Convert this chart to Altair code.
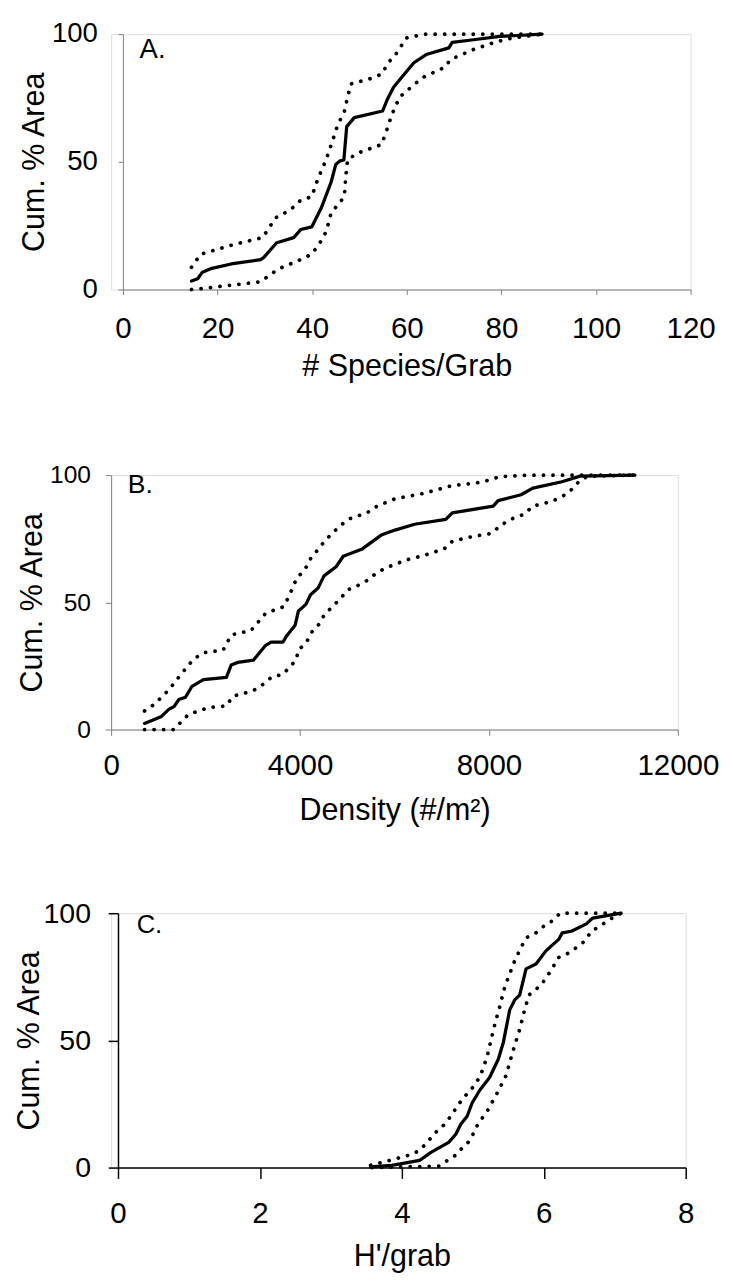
import altair as alt
import pandas as pd

FONT = "Liberation Sans"

# ---------------- Panel A: # Species/Grab ----------------
a_mean_x = [14.5, 15.8, 16.8, 18.8, 22.9, 29.1, 29.8, 32.5, 36.1, 37.6, 39.9, 41.9, 44.0, 45.0, 45.9, 46.7,
            47.3, 48.9, 54.9, 55.8, 57.2, 59.2, 61.5, 64.1, 68.9, 69.6, 74.1, 79.7, 88.6]
a_mean_y = [3.3, 4.2, 6.8, 8.3, 10.0, 11.7, 12.6, 18.3, 20.3, 23.5, 24.5, 31.8, 42.0, 49.0, 50.4, 50.7,
            63.8, 67.3, 69.9, 74.1, 79.2, 83.7, 88.8, 92.0, 94.6, 96.8, 97.8, 99.1, 100]
a_up_x = [14.5, 16.4, 23.6, 29.5, 30.9, 32.2, 35.4, 37.6, 39.9, 41.2, 43.0, 44.4, 45.4, 46.8, 47.5, 48.2,
          52.0, 54.7, 56.1, 57.9, 59.9, 63.7, 88.6]
a_up_y = [8.7, 13.8, 17.7, 20.3, 24.1, 28.0, 31.2, 35.0, 36.3, 43.3, 51.0, 58.7, 64.5, 69.6, 75.4, 80.5,
          82.4, 84.3, 88.8, 92.7, 98.5, 100, 100]
a_lo_x = [14.5, 18.7, 22.9, 29.1, 30.9, 32.9, 37.1, 39.9, 41.9, 43.0, 44.0, 45.4, 46.8, 47.1, 47.5, 49.9,
          54.7, 55.8, 56.8, 58.5, 61.7, 63.7, 67.9, 69.3, 74.1, 78.6, 82.4, 86.6, 88.6]
a_lo_y = [0, 0.8, 1.7, 3.0, 5.5, 8.1, 11.3, 13.8, 19.0, 22.8, 29.9, 33.1, 36.3, 44.0, 51.0, 53.6,
          56.8, 62.6, 68.3, 75.4, 80.5, 83.3, 86.9, 90.1, 94.0, 96.8, 98.5, 99.5, 100]
a_ticks = [0, 20, 40, 60, 80, 100, 120]

# ---------------- Panel B: Density ----------------
b_mean_x = [707, 1054, 1227, 1331, 1435, 1574, 1712, 1955, 2440, 2544, 2683, 3016, 3272, 3390, 3640, 3723,
            3896, 3966, 4124, 4222, 4382, 4507, 4763, 4915, 5318, 5734, 6011, 6427, 7086, 7224, 8091, 8195,
            8680, 8929, 9547, 9929, 11090]
b_mean_y = [2.4, 5.0, 8.0, 9.0, 11.8, 12.7, 17.0, 19.6, 20.5, 25.4, 26.4, 27.3, 33.1, 34.4, 34.4, 37.0,
            41.0, 46.6, 49.2, 53.0, 55.6, 60.4, 64.0, 68.1, 71.0, 76.6, 78.4, 80.7, 82.6, 85.2, 87.8, 90.0,
            92.3, 94.9, 97.4, 99.6, 100]
b_up_x = [707, 915, 1227, 1470, 1747, 1955, 2371, 2544, 2960, 3272, 3654, 3758, 3931, 4104, 4208, 4486,
          4659, 4832, 5006, 5422, 5630, 6011, 6635, 7224, 7848, 8230, 8854, 11090]
b_up_y = [7.3, 9.9, 15.7, 21.5, 27.7, 30.2, 31.2, 37.2, 38.9, 45.7, 48.3, 52.1, 59.5, 62.9, 66.8, 73.2,
          76.8, 79.7, 82.6, 85.2, 87.8, 90.7, 92.9, 95.9, 97.2, 99.4, 100, 100]
b_lo_x = [707, 1331, 1470, 1643, 2059, 2440, 2579, 2995, 3203, 3411, 3619, 3723, 3917, 3966, 4139, 4243,
          4403, 4507, 4694, 4867, 5006, 5214, 5422, 5630, 5838, 6219, 6635, 7051, 7224, 7640, 8056, 8195,
          8368, 8542, 8750, 8923, 9339, 9582, 9790, 9929, 10100, 11090]
b_lo_y = [0, 0, 2.8, 6.0, 8.6, 9.3, 13.1, 15.1, 17.6, 20.8, 21.5, 23.4, 27.3, 31.2, 34.4, 38.2,
          41.4, 44.9, 48.5, 51.7, 54.9, 56.5, 58.6, 61.7, 63.7, 66.5, 68.5, 71.0, 74.0, 75.8, 77.1, 79.4,
          81.7, 83.3, 84.6, 87.8, 89.7, 92.0, 94.9, 98.1, 99.5, 100]
b_ticks = [0, 4000, 8000, 12000]

# ---------------- Panel C: H'/grab ----------------
c_mean_x = [3.56, 3.86, 4.25, 4.41, 4.66, 4.76, 4.83, 4.92, 4.99, 5.10, 5.19, 5.24, 5.36, 5.43, 5.52, 5.59,
            5.66, 5.75, 5.89, 6.03, 6.21, 6.26, 6.39, 6.60, 6.69, 7.09]
c_mean_y = [0.3, 0.9, 2.8, 6.0, 9.9, 13.1, 17.0, 20.2, 25.4, 30.5, 33.7, 35.6, 42.7, 49.2, 62.0, 65.9,
            67.8, 78.1, 80.0, 85.2, 89.7, 92.3, 92.9, 95.8, 98.1, 100]
c_up_x = [3.56, 3.83, 4.09, 4.23, 4.34, 4.46, 4.60, 4.69, 4.78, 4.87, 4.99, 5.10, 5.20, 5.26, 5.31, 5.38,
          5.45, 5.52, 5.59, 5.68, 5.75, 5.89, 6.00, 6.12, 6.23, 7.04]
c_up_y = [0.9, 2.8, 4.8, 6.4, 9.3, 13.4, 17.0, 20.2, 24.1, 27.5, 31.2, 35.6, 43.4, 50.5, 56.3, 63.3,
          71.0, 76.2, 81.3, 86.5, 90.3, 92.3, 94.9, 97.0, 100, 100]
c_lo_x = [3.58, 4.53, 4.64, 4.77, 4.85, 4.96, 5.08, 5.19, 5.33, 5.40, 5.47, 5.56, 5.66, 5.73, 5.79, 5.96,
          6.05, 6.21, 6.37, 6.58, 6.67, 6.79, 6.92, 7.06, 7.09]
c_lo_y = [0, 0.6, 2.8, 5.1, 7.7, 10.6, 17.6, 21.5, 28.6, 32.4, 36.3, 45.3, 54.3, 62.0, 67.8, 71.7,
          75.2, 82.6, 84.6, 89.1, 92.9, 94.9, 97.4, 99.6, 100]
c_ticks = [0, 2, 4, 6, 8]

y_ticks = [0, 50, 100]
y_title = "Cum. % Area"


def build_df(mx, my, ux, uy, lx, ly):
    rows = []
    for name, xs, ys in (("mean", mx, my), ("upper", ux, uy), ("lower", lx, ly)):
        for i, (x, y) in enumerate(zip(xs, ys)):
            rows.append({"x": x, "y": y, "series": name, "ord": i})
    return pd.DataFrame(rows)


def panel(df, xdom, xticks, xtitle, letter, st):
    sh = st["shift"]
    W = st["w"] + sh
    xaxis = alt.Axis(values=xticks, title=xtitle, grid=False, format="d",
                     domainColor=st["axcol"], tickColor=st["axcol"], domainWidth=st["axw"], tickWidth=st["axw"],
                     tickSize=st["xtick"], labelFontSize=st["xlab"], labelPadding=st["xlabpad"],
                     labelFont=FONT, labelColor="black", titleFont=FONT, titleFontSize=st["xtit"],
                     titleFontWeight="normal", titleColor="black", titlePadding=st["xtitpad"],
                     titleX=sh + st["w"] / 2,
                     labelFlush=False, labelOverlap=False)
    yaxis = alt.Axis(values=y_ticks, title=y_title, grid=False, offset=-sh,
                     domainColor=st["axcol"], tickColor=st["axcol"], domainWidth=st["axw"], tickWidth=st["axw"],
                     tickSize=st["ytick"], labelFontSize=st["ylab"], labelPadding=st["ylabpad"],
                     labelFont=FONT, labelColor="black", titleFont=FONT, titleFontSize=st["ytit"],
                     titleFontWeight="normal", titleColor="black", titlePadding=st["ytitpad"],
                     labelFlush=False, labelOverlap=False)
    xenc = alt.X("x:Q", scale=alt.Scale(domain=xdom, range=[sh, W], nice=False, zero=False), axis=xaxis)
    yenc = alt.Y("y:Q", scale=alt.Scale(domain=[0, 100], nice=False), axis=yaxis)
    base = alt.Chart(df)
    dotted = base.transform_filter(alt.datum.series != "mean").mark_line(
        color="black", strokeWidth=3.8, strokeDash=[0.1, 9.6], strokeCap="round"
    ).encode(x=xenc, y=yenc, detail="series:N", order="ord:Q")
    solid = base.transform_filter(alt.datum.series == "mean").mark_line(
        color="black", strokeWidth=3.3, strokeJoin="round", strokeCap="round"
    ).encode(x=xenc, y=yenc, order="ord:Q")
    lab = alt.Chart(pd.DataFrame({"t": [letter]})).mark_text(
        align="left", baseline="alphabetic", fontSize=st["letfs"], font=FONT, color="black"
    ).encode(x=alt.value(sh + st["letx"]), y=alt.value(st["lety"]), text="t:N")
    layers = [dotted, solid, lab]
    if st["spy"] > 0:
        spacer = alt.Chart(pd.DataFrame({"s": [0]})).mark_rule(opacity=0, strokeWidth=1).encode(
            x=alt.value(sh + 1), y=alt.value(0), y2=alt.value(st["spy"]))
        layers.append(spacer)
    return alt.layer(*layers).properties(width=W, height=st["h"])


stA = dict(axcol="#808080", axw=1, xtick=5, xlab=30, xlabpad=20, xtit=31, xtitpad=9,
           ytick=5, ylab=28, ylabpad=21, ytit=31, ytitpad=1, letfs=28, letx=17, lety=24,
           spy=435, w=578, h=260, shift=12)
stB = dict(axcol="#808080", axw=1, xtick=6, xlab=30, xlabpad=16, xtit=31, xtitpad=16,
           ytick=6, ylab=25, ylabpad=15, ytit=31, ytitpad=1, letfs=27, letx=17, lety=18,
           spy=430, w=577, h=259, shift=0)
stC = dict(axcol="black", axw=1.5, xtick=11, xlab=30, xlabpad=21, xtit=31, xtitpad=14,
           ytick=10, ylab=29, ylabpad=18, ytit=31, ytitpad=-2, letfs=26, letx=19, lety=20,
           spy=0, w=578, h=259, shift=7)

pA = panel(build_df(a_mean_x, a_mean_y, a_up_x, a_up_y, a_lo_x, a_lo_y), [0, 120], a_ticks,
           "# Species/Grab", "A.", stA)
pB = panel(build_df(b_mean_x, b_mean_y, b_up_x, b_up_y, b_lo_x, b_lo_y), [0, 12000], b_ticks,
           "Density (#/m²)", "B.", stB)
pC = panel(build_df(c_mean_x, c_mean_y, c_up_x, c_up_y, c_lo_x, c_lo_y), [0, 8], c_ticks,
           "H'/grab", "C.", stC)

chart = alt.concat(pA, pB, pC, columns=1, spacing=0, align="none").properties(
    padding={"left": 5, "top": 0, "right": 5, "bottom": 5}
).configure_view(stroke=None).configure(background="white")

chart.save("out.html", embed_options={"renderer": "svg", "actions": False})
